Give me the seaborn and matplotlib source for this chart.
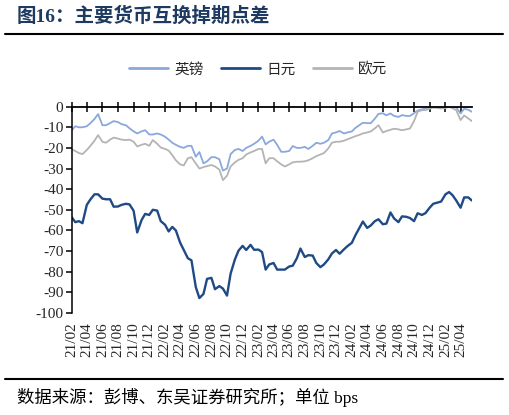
import matplotlib
matplotlib.use("Agg")
import matplotlib.pyplot as plt
import matplotlib.dates as mdates
from matplotlib.lines import Line2D
import numpy as np
import pandas as pd
import seaborn as sns

# 半月频率的日期（每月1日和15日）
dates = pd.date_range("2021-02-01", "2025-05-15", freq="SMS")

gbp = [
    -11.4, -9.5, -10, -10, -9.5, -8, -6, -3.6, -9, -9,
    -8, -7, -7.5, -8.5, -9, -10.5, -12, -13, -12, -11.4,
    -13.5, -13.5, -13, -13.5, -14.6, -16, -17.5, -18.5, -19.5, -20,
    -19, -19, -24.3, -22, -27.5, -26.5, -24.5, -24.5, -25.5, -31,
    -30, -23, -21, -20.5, -21.5, -20, -19, -18, -16.5, -14.5,
    -18.3, -17, -16, -18.5, -21.9, -21.9, -21.5, -19.1, -20, -20,
    -19.5, -20.5, -19, -17.5, -18, -17.5, -16.2, -13, -12.5, -11.8,
    -13, -12.5, -12, -10.3, -9, -7.8, -8, -8, -5.8, -3.5,
    -3.2, -4.2, -3.3, -4.5, -5, -4.1, -4.5, -4.5, -3.2, -1.9,
    -1.3, -0.9, -0.1, -0.3, -0.4, -0.3, -0.2, -0.2, -0.3, -0.4,
    -3.3, -1, -1.5, -2.5,
]

jpy = [
    -53.6, -56, -55.5, -56.5, -47.6, -45, -42.5, -42.5, -44.6, -44.9,
    -44.9, -48.5, -48.4, -47.6, -47.1, -47.4, -50.5, -61, -55, -52,
    -52.5, -50, -50.4, -55.5, -57.3, -60.5, -58.3, -60, -66, -69.5,
    -73.5, -74.5, -87.5, -92.8, -90.8, -83.5, -83, -88.5, -87, -88.2,
    -91.6, -81, -74, -69.8, -67.5, -69.5, -67, -69.4, -69.3, -70.5,
    -79, -76.5, -75.8, -79, -79, -79, -77.5, -77.1, -73.5, -68.8,
    -72.9, -72, -72.2, -75.8, -77.8, -76.5, -74, -71.2, -69.5, -71.3,
    -69.2, -67.6, -66, -62.3, -58.9, -55.7, -58.8, -57.6, -55.5, -54.6,
    -57, -56.7, -51.3, -54.2, -56, -53.2, -53.4, -54, -55.5, -51.7,
    -52.5, -51.6, -49, -47.1, -46.5, -46, -42.5, -41.4, -43, -45.5,
    -49, -44, -44, -45.5,
]

eur = [
    -20.7, -21.5, -22.5, -23, -21, -19, -16.5, -13.8, -17, -17.5,
    -16, -15, -15.5, -16, -16.2, -16, -17, -19.3, -18.5, -18,
    -19, -16.2, -18, -19.8, -20.5, -21.3, -23.5, -26, -28, -28.5,
    -25, -24.5, -27.5, -30, -29.3, -28.8, -28.3, -29, -30.5, -35.6,
    -33.5, -29, -27, -25.8, -25, -23.2, -22.2, -21.5, -20.5, -20.5,
    -27.5, -25, -25, -26.5, -28, -29, -28, -27, -26.7, -26.7,
    -26.5, -26, -25, -24, -23.2, -22.5, -20.2, -17.5, -17, -17,
    -16.5, -15.8, -15, -14.3, -13.7, -13, -12.5, -12, -10.5, -9,
    -12.5, -11.8, -11.2, -10.7, -11, -11.4, -11, -10.6, -7, -2.5,
    -1.7, -1.7, -1, -0.4, -0.6, -0.9, -0.6, -0.1, -0.8, -1.7,
    -6.5, -4.3, -5.7, -7,
]

series_names = ["英镑", "日元", "欧元"]
series_values = [gbp, jpy, eur]
colors = {"英镑": "#8AA8DC", "日元": "#1F4A85", "欧元": "#B4B4B4"}
widths = {"英镑": 1.3, "日元": 1.7, "欧元": 1.3}

sns.set_style("white")
plt.rcParams["font.family"] = ["Liberation Serif", "Noto Sans CJK SC"]
plt.rcParams["axes.unicode_minus"] = False

fig = plt.figure(figsize=(5.09, 4.15), dpi=100)
ax = fig.add_axes([0.1409, 0.246, 0.927 - 0.1409, 0.497])

for name, vals in zip(series_names, series_values):
    df = pd.DataFrame({"date": dates, "value": vals})
    sns.lineplot(data=df, x="date", y="value", ax=ax, color=colors[name],
                 linewidth=widths[name], label=name, legend=False)

ax.set_xlim(dates[0], dates[-1])
ax.set_ylim(-100, 0)
ax.set_yticks(np.arange(-100, 1, 10))
ax.set_xlabel("")
ax.set_ylabel("")

ax.xaxis.set_major_locator(mdates.MonthLocator(bymonth=[2, 4, 6, 8, 10, 12]))
ax.xaxis.set_major_formatter(mdates.DateFormatter("%y/%m"))
ax.tick_params(axis="x", top=True, bottom=False, labeltop=False, labelbottom=True,
               direction="inout", length=7, width=1.1, color="black",
               labelsize=11, labelrotation=90, pad=3)
ax.tick_params(axis="y", left=True, direction="out", length=4, width=1.1,
               color="black", labelsize=11, pad=2)

for side in ["right", "bottom"]:
    ax.spines[side].set_visible(False)
ax.spines["top"].set_color("black")
ax.spines["top"].set_linewidth(1.3)
ax.spines["left"].set_color("black")
ax.spines["left"].set_linewidth(1.1)
ax.grid(False)

handles = [Line2D([0], [0], color=colors[n], linewidth=2) for n in series_names]
fig.legend(handles, series_names, loc="center", bbox_to_anchor=(0.507, 0.833),
           ncol=3, frameon=False, fontsize=10.5, handlelength=2.7,
           handletextpad=0.4, columnspacing=1.2)

fig.text(0.033, 0.961, "图16：主要货币互换掉期点差", fontsize=14, fontweight="bold",
         color="#1F3A60", va="center", ha="left")
fig.add_artist(Line2D([0.01, 0.989], [0.918, 0.918], color="black", linewidth=1.5,
                      transform=fig.transFigure))
fig.add_artist(Line2D([0.01, 0.989], [0.087, 0.087], color="black", linewidth=1.5,
                      transform=fig.transFigure))
fig.text(0.033, 0.041, "数据来源：彭博、东吴证券研究所；单位 bps", fontsize=12.5,
         color="black", va="center", ha="left")

fig.savefig("out.png", dpi=100)
